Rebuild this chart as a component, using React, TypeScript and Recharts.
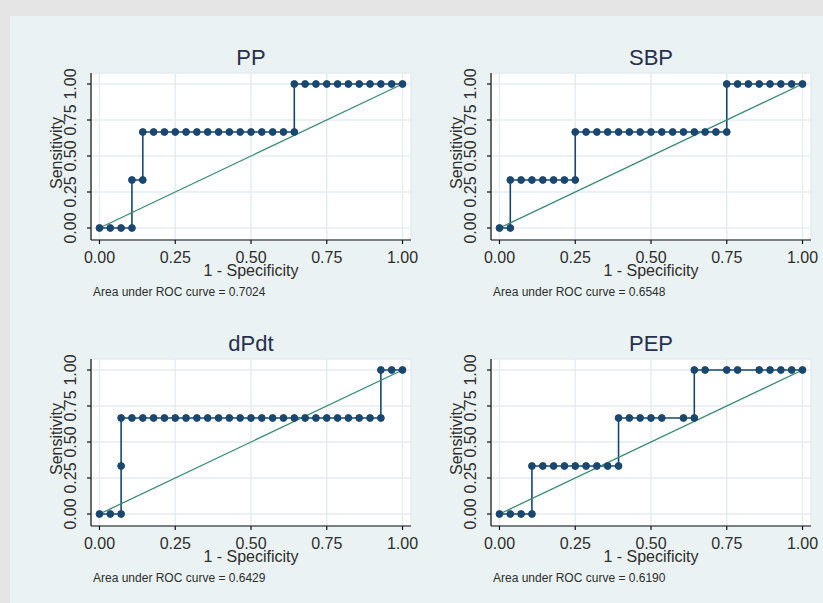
import React from 'react';
import { LineChart, Line, XAxis, YAxis, CartesianGrid } from 'recharts';

// ---- data ----
const axisTicks = [0, 0.25, 0.5, 0.75, 1];

const ppFpr = [0, 0.0357, 0.0714, 0.1071, 0.1071, 0.1429, 0.1429, 0.1786, 0.2143, 0.25, 0.2857, 0.3214, 0.3571, 0.3929, 0.4286, 0.4643, 0.5, 0.5357, 0.5714, 0.6071, 0.6429, 0.6429, 0.6786, 0.7143, 0.75, 0.7857, 0.8214, 0.8571, 0.8929, 0.9286, 0.9643, 1];
const ppTpr = [0, 0, 0, 0, 0.3333, 0.3333, 0.6667, 0.6667, 0.6667, 0.6667, 0.6667, 0.6667, 0.6667, 0.6667, 0.6667, 0.6667, 0.6667, 0.6667, 0.6667, 0.6667, 0.6667, 1, 1, 1, 1, 1, 1, 1, 1, 1, 1, 1];

const sbpFpr = [0, 0.0357, 0.0357, 0.0714, 0.1071, 0.1429, 0.1786, 0.2143, 0.25, 0.25, 0.2857, 0.3214, 0.3571, 0.3929, 0.4286, 0.4643, 0.5, 0.5357, 0.5714, 0.6071, 0.6429, 0.6786, 0.7143, 0.75, 0.75, 0.7857, 0.8214, 0.8571, 0.8929, 0.9286, 0.9643, 1];
const sbpTpr = [0, 0, 0.3333, 0.3333, 0.3333, 0.3333, 0.3333, 0.3333, 0.3333, 0.6667, 0.6667, 0.6667, 0.6667, 0.6667, 0.6667, 0.6667, 0.6667, 0.6667, 0.6667, 0.6667, 0.6667, 0.6667, 0.6667, 0.6667, 1, 1, 1, 1, 1, 1, 1, 1];

const dpdtFpr = [0, 0.0357, 0.0714, 0.0714, 0.0714, 0.1071, 0.1429, 0.1786, 0.2143, 0.25, 0.2857, 0.3214, 0.3571, 0.3929, 0.4286, 0.4643, 0.5, 0.5357, 0.5714, 0.6071, 0.6429, 0.6786, 0.7143, 0.75, 0.7857, 0.8214, 0.8571, 0.8929, 0.9286, 0.9286, 0.9643, 1];
const dpdtTpr = [0, 0, 0, 0.3333, 0.6667, 0.6667, 0.6667, 0.6667, 0.6667, 0.6667, 0.6667, 0.6667, 0.6667, 0.6667, 0.6667, 0.6667, 0.6667, 0.6667, 0.6667, 0.6667, 0.6667, 0.6667, 0.6667, 0.6667, 0.6667, 0.6667, 0.6667, 0.6667, 0.6667, 1, 1, 1];

const pepFpr = [0, 0.0357, 0.0714, 0.1071, 0.1071, 0.1429, 0.1786, 0.2143, 0.25, 0.2857, 0.3214, 0.3571, 0.3929, 0.3929, 0.4286, 0.4643, 0.5, 0.5357, 0.6071, 0.6429, 0.6429, 0.6786, 0.75, 0.7857, 0.8571, 0.8929, 0.9286, 0.9643, 1];
const pepTpr = [0, 0, 0, 0, 0.3333, 0.3333, 0.3333, 0.3333, 0.3333, 0.3333, 0.3333, 0.3333, 0.3333, 0.6667, 0.6667, 0.6667, 0.6667, 0.6667, 0.6667, 0.6667, 1, 1, 1, 1, 1, 1, 1, 1, 1];

const diagFpr = [0, 1];
const diagTpr = [0, 1];

const panelTitles = ['PP', 'SBP', 'dPdt', 'PEP'];
const aucValues = ['0.7024', '0.6548', '0.6429', '0.6190'];

// ---- styles ----
const FONT = '"Liberation Sans", Arial, Helvetica, sans-serif';
const NAVY = '#1a476f';
const DIAG = '#3b8b74';
const TXT = '#2e2e2e';
const TITLE = '#27304e';

const toData = (xs: number[], ys: number[]) => xs.map((x, i) => ({ x, y: ys[i] }));

const XTick = (props: any) => {
  const { x, y, payload } = props;
  return (
    <text x={x} y={y + 16.7} textAnchor="middle" fontSize={16} fill={TXT} fontFamily={FONT}>
      {Number(payload.value).toFixed(2)}
    </text>
  );
};

const YTick = (props: any) => {
  const { x, y, payload } = props;
  const bx = x - 9;
  return (
    <text x={bx} y={y} transform={`rotate(-90 ${bx} ${y})`} textAnchor="middle" fontSize={16} fill={TXT} fontFamily={FONT}>
      {Number(payload.value).toFixed(2)}
    </text>
  );
};

type PanelProps = { fpr: number[]; tpr: number[]; left: number; top: number };

const Panel = ({ fpr, tpr, left, top }: PanelProps) => {
  const data = toData(fpr, tpr);
  const diag = toData(diagFpr, diagTpr);
  return (
    <div style={{ position: 'absolute', left, top }}>
      <LineChart width={412} height={270} margin={{ top: 33, right: 21, bottom: 0, left: 0 }} data={data}>
        <CartesianGrid fill="#ffffff" fillOpacity={1} stroke="#e4edf0" strokeWidth={1.5} />
        <XAxis
          type="number"
          dataKey="x"
          domain={[-0.028, 1.028]}
          ticks={axisTicks}
          height={70}
          tickSize={4}
          tickMargin={2}
          axisLine={{ stroke: '#111', strokeWidth: 1.2 }}
          tickLine={{ stroke: '#111', strokeWidth: 1.2 }}
          tick={<XTick />}
          interval={0}
        />
        <YAxis
          type="number"
          dataKey="y"
          domain={[-0.0833, 1.0764]}
          ticks={axisTicks}
          width={71}
          tickSize={4}
          tickMargin={2}
          axisLine={{ stroke: '#111', strokeWidth: 1.2 }}
          tickLine={{ stroke: '#111', strokeWidth: 1.2 }}
          tick={<YTick />}
          interval={0}
        />
        <Line
          type="linear"
          dataKey="y"
          stroke={NAVY}
          strokeWidth={1.6}
          dot={{ r: 3.4, fill: NAVY, stroke: NAVY, strokeWidth: 1 }}
          isAnimationActive={false}
        />
        <Line
          type="linear"
          data={diag}
          dataKey="y"
          stroke={DIAG}
          strokeWidth={1.3}
          dot={false}
          isAnimationActive={false}
        />
      </LineChart>
    </div>
  );
};

const panelSeries = [
  { fpr: ppFpr, tpr: ppTpr },
  { fpr: sbpFpr, tpr: sbpTpr },
  { fpr: dpdtFpr, tpr: dpdtTpr },
  { fpr: pepFpr, tpr: pepTpr },
];

export default function App() {
  const dx = 400;
  const dy = 286;
  return (
    <div style={{ position: 'relative', width: 823, height: 603, background: '#e5e5e5', overflow: 'hidden' }}>
      <style>{'body{margin:0}'}</style>
      <div style={{ position: 'absolute', left: 10, top: 16, width: 813, height: 587, background: '#eaf2f3' }} />
      {panelSeries.map((s, i) => (
        <Panel key={i} fpr={s.fpr} tpr={s.tpr} left={20 + (i % 2) * dx} top={40 + Math.floor(i / 2) * dy} />
      ))}
      <svg width={823} height={603} style={{ position: 'absolute', left: 0, top: 0, pointerEvents: 'none' }}>
        {panelTitles.map((t, i) => {
          const ox = (i % 2) * dx;
          const oy = Math.floor(i / 2) * dy;
          return (
            <g key={t} fontFamily={FONT}>
              <text x={251 + ox} y={65 + oy} textAnchor="middle" fontSize={22} fill={TITLE}>{t}</text>
              <text x={62 + ox} y={153 + oy} transform={`rotate(-90 ${62 + ox} ${153 + oy})`} textAnchor="middle" fontSize={16} fill={TXT}>Sensitivity</text>
              <text x={251 + ox} y={276 + oy} textAnchor="middle" fontSize={16} fill={TXT}>1 - Specificity</text>
              <text x={93 + ox} y={296 + oy} fontSize={12} fill={TXT}>{`Area under ROC curve = ${aucValues[i]}`}</text>
            </g>
          );
        })}
      </svg>
    </div>
  );
}
